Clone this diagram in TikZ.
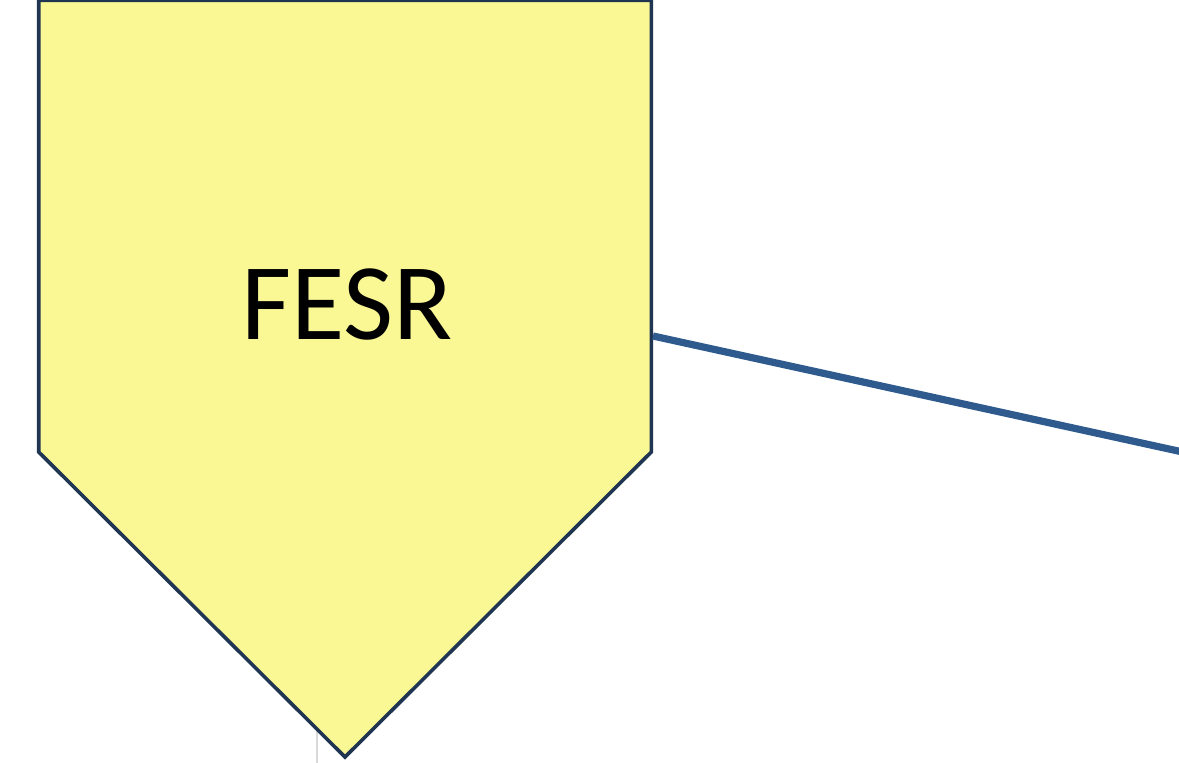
\documentclass[tikz,border=0pt]{standalone}
\usepackage{fontspec}
\setmainfont{Carlito}
\definecolor{fillyellow}{HTML}{FAF894}
\definecolor{edgeblue}{HTML}{1F3552}
\definecolor{linkblue}{HTML}{2E5A8E}
\definecolor{guide}{HTML}{D9D9D9}
\tikzset{
  pentabox/.style={draw=edgeblue, fill=fillyellow, line width=3.6pt, line join=miter},
  link/.style={draw=linkblue, line width=7.2pt},
  guideline/.style={draw=guide, line width=2pt},
  label/.style={font=\fontsize{109}{120}\selectfont, text=black, inner sep=0pt}
}
\begin{document}
\begin{tikzpicture}[x=1pt,y=-1pt]
\useasboundingbox (0,0) rectangle (1179,763);
\draw[guideline] (316.5,730) -- (316.5,770);
\path[pentabox] (38.7,0.3) -- (651.3,0.3) -- (651.3,452) -- (345,757) -- (38.7,452) -- cycle;
\node[label] (fesr) at (347,305) {FESR};
\coordinate (s) at (653,336);
\coordinate (e) at (1185,452.5);
\draw[link] (s) -- (e);
\end{tikzpicture}
\end{document}
